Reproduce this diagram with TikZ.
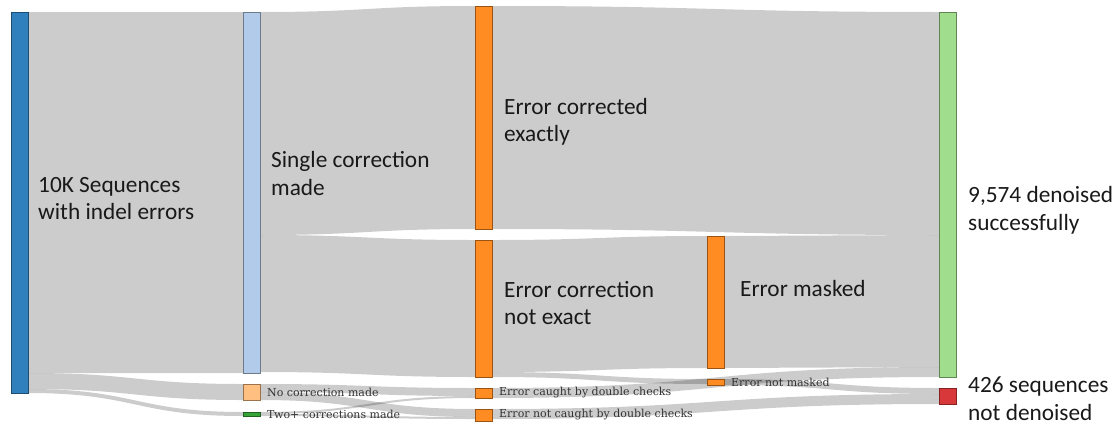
\documentclass[tikz,border=0pt]{standalone}
\usepackage{fontspec}
\setmainfont{Carlito}
\newfontfamily\plotfont{DejaVu Serif}
\usetikzlibrary{calc,backgrounds}

\definecolor{srcblue}{HTML}{3080BD}
\definecolor{paleblue}{HTML}{B3CBEA}
\definecolor{paleorange}{HTML}{FFBF80}
\definecolor{darkgreen}{HTML}{35A335}
\definecolor{midorange}{HTML}{FF8C22}
\definecolor{palegreen}{HTML}{A0DE8E}
\definecolor{errred}{HTML}{D9383A}

\tikzset{
  bar/.style={fill=#1, draw=#1!60!black, line width=0.6pt, inner sep=0pt, outer sep=0pt,
    minimum width=17, anchor=north west},
  linkfill/.style={fill=black, fill opacity=0.2},
  biglabel/.style={anchor=west, align=left, inner sep=0pt, text=black!90,
    font=\fontsize{23.3}{27.5}\selectfont},
  smalllabel/.style={anchor=west, inner sep=0pt, xshift=7, text=black!80,
    font=\plotfont\fontsize{11}{13}\selectfont}
}

% band from node #1 (offset #2) to node #3 (offset #4), thickness #5
\newcommand\linkband[5]{%
  \path ($(#1.north east)+(0,#2)$) coordinate (a0)
        ($(#3.north west)+(0,#4)$) coordinate (b0)
        ($(a0)+(0,#5)$) coordinate (a1)
        ($(b0)+(0,#5)$) coordinate (b1)
        ($(a0)!0.5!(b0)$) coordinate (m);
  \fill[linkfill] (a0) .. controls (a0 -| m) and (b0 -| m) .. (b0)
    -- (b1) .. controls (b1 -| m) and (a1 -| m) .. (a1) -- cycle;
}

\begin{document}
\begin{tikzpicture}[x=1pt,y=-1pt]
  \useasboundingbox (0,0) rectangle (1118,426);

  % columns of bars
  \node[bar=srcblue, minimum height=381] (src) at (11,12) {};
  \node[bar=paleblue, minimum height=361] (single) at (243,12) {};
  \node[bar=paleorange, minimum height=16] (nocorr) at (243,384) {};
  \node[bar=darkgreen, minimum height=4] (twoplus) at (243,412) {};
  \node[bar=midorange, minimum height=223] (exact) at (475,6) {};
  \node[bar=midorange, minimum height=137] (notexact) at (475,240) {};
  \node[bar=midorange, minimum height=10] (caught) at (475,388) {};
  \node[bar=midorange, minimum height=12] (notcaught) at (475,409) {};
  \node[bar=midorange, minimum height=132] (masked) at (707,236) {};
  \node[bar=midorange, minimum height=6] (notmasked) at (707,379) {};
  \node[bar=palegreen, minimum height=365] (success) at (939,12) {};
  \node[bar=errred, minimum height=16] (failed) at (939,388) {};

  % links
  \begin{scope}[on background layer]
    \linkband{src}{0}{single}{0}{361}
    \linkband{src}{361}{nocorr}{0}{16}
    \linkband{src}{377}{twoplus}{0}{4}
    \linkband{single}{0}{exact}{0}{223}
    \linkband{single}{223}{notexact}{0}{137}
    \linkband{nocorr}{0}{caught}{0}{8}
    \linkband{nocorr}{8}{notcaught}{0}{8}
    \linkband{twoplus}{0}{caught}{8}{2}
    \linkband{twoplus}{2}{notcaught}{8}{2}
    \linkband{exact}{0}{success}{0}{223}
    \linkband{notexact}{0}{masked}{0}{132}
    \linkband{notexact}{132}{notmasked}{0}{5}
    \linkband{masked}{0}{success}{223}{132}
    \linkband{caught}{0}{success}{355}{10}
    \linkband{notmasked}{0}{failed}{0}{6}
    \linkband{notcaught}{0}{failed}{6}{10}
  \end{scope}

  % labels
  \node[biglabel] (lsrc) at (38,198.5) {10K Sequences\\with indel errors};
  \node[biglabel] (lsingle) at (271,173.5) {Single correction\\made};
  \node[biglabel] (lexact) at (504,122) {Error corrected\\exactly};
  \node[biglabel] (lnotexact) at (504,303) {Error correction\\not exact};
  \node[biglabel] (lmasked) at (740,288) {Error masked};
  \node[biglabel] (lsuccess) at (968,210.5) {9,574 denoised\\successfully};
  \node[biglabel] (lfailed) at (968,398.5) {426 sequences\\not denoised};
  \node[smalllabel] (lnocorr) at (nocorr.east) {No correction made};
  \node[smalllabel] (ltwoplus) at (twoplus.east) {Two+ corrections made};
  \node[smalllabel] (lcaught) at (caught.east) {Error caught by double checks};
  \node[smalllabel] (lnotcaught) at (notcaught.east) {Error not caught by double checks};
  \node[smalllabel] (lnotmasked) at (notmasked.east) {Error not masked};
\end{tikzpicture}
\end{document}
